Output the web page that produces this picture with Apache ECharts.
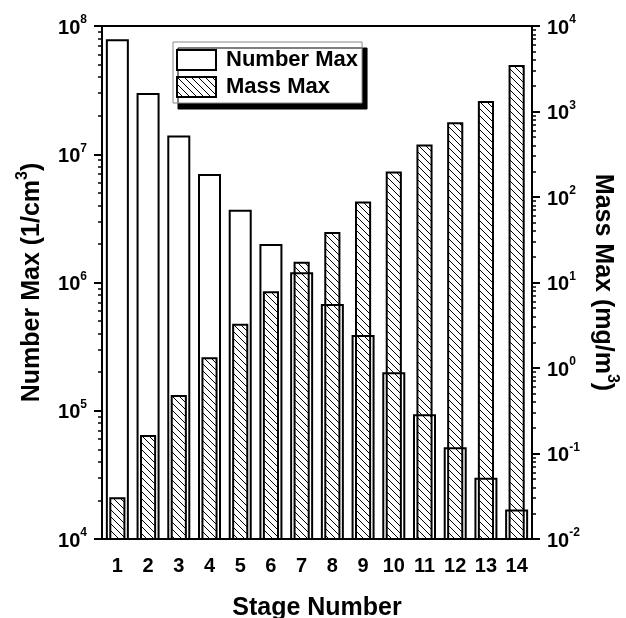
<!DOCTYPE html>
<html>
<head>
<meta charset="utf-8">
<script src="https://cdn.jsdelivr.net/npm/echarts@6/dist/echarts.min.js"></script>
<style>
html,body{margin:0;padding:0;background:#fff;}
#c{width:626px;height:618px;}
</style>
</head>
<body>
<div id="c"></div>
<script>
var categories = ['1','2','3','4','5','6','7','8','9','10','11','12','13','14'];
var numberMax = [7.9e7, 3.0e7, 1.4e7, 7.0e6, 3.7e6, 2.0e6, 1.2e6, 6.8e5, 3.9e5, 2.0e5, 9.4e4, 5.2e4, 3.0e4, 1.7e4];
var massMax = [0.03, 0.16, 0.47, 1.3, 3.2, 7.7, 17, 38, 86, 194, 400, 730, 1290, 3400];
var leftExponents = [4, 5, 6, 7, 8];
var rightExponents = [-2, -1, 0, 1, 2, 3, 4];
var minorMultipliers = [2, 3, 4, 5, 6, 7, 8, 9];

var LEFT_MIN = Math.pow(10, leftExponents[0]);
var LEFT_MAX = Math.pow(10, leftExponents[leftExponents.length - 1]);
var RIGHT_MIN = Math.pow(10, rightExponents[0]);
var RIGHT_MAX = Math.pow(10, rightExponents[rightExponents.length - 1]);

function minorValues(exps) {
  var out = [];
  for (var i = 0; i < exps.length - 1; i++) {
    for (var j = 0; j < minorMultipliers.length; j++) {
      out.push(parseFloat((minorMultipliers[j] * Math.pow(10, exps[i])).toPrecision(6)));
    }
  }
  return out;
}
function majorValues(exps) {
  return exps.map(function (e) { return parseFloat(Math.pow(10, e).toPrecision(6)); });
}

var FONT = '"Liberation Sans", Arial, sans-serif';

// hatch pattern
var tile = document.createElement('canvas');
tile.width = 7; tile.height = 7;
var tc = tile.getContext('2d');
tc.fillStyle = '#fff';
tc.fillRect(0, 0, 7, 7);
tc.strokeStyle = '#000';
tc.lineWidth = 1;
[-7, 0, 7].forEach(function (o) {
  tc.beginPath();
  tc.moveTo(o, 0);
  tc.lineTo(o + 7, 7);
  tc.stroke();
});
var hatch = {image: tile, repeat: 'repeat'};

function powLabel(v) {
  var e = Math.round(Math.log(v) / Math.LN10);
  return '{b|10}{s|' + e + '}';
}
var tickRich = {
  b: {fontFamily: FONT, fontWeight: 'bold', fontSize: 20, color: '#000', padding: [4, 0, 0, 0]},
  s: {fontFamily: FONT, fontWeight: 'bold', fontSize: 12, color: '#000', verticalAlign: 'top'}
};
var nameRich = {
  a: {fontFamily: FONT, fontWeight: 'bold', fontSize: 25, color: '#000', padding: [5, 0, 0, 0]},
  s: {fontFamily: FONT, fontWeight: 'bold', fontSize: 16, color: '#000', verticalAlign: 'top'}
};

var axisLineStyle = {color: '#000', width: 2};

var massData = massMax.map(function (v, i) { return [i, v]; });

var chart = echarts.init(document.getElementById('c'), null, {renderer: 'canvas'});
chart.setOption({
  backgroundColor: '#fff',
  animation: false,
  grid: {left: 102, right: 94, top: 26, bottom: 79, containLabel: false, outerBoundsMode: 'none'},
  legend: {
    orient: 'vertical',
    left: 173, top: 42,
    padding: [7, 4, 5, 3],
    itemGap: 5,
    itemWidth: 39, itemHeight: 20,
    backgroundColor: '#fff',
    borderColor: '#888', borderWidth: 1,
    shadowColor: '#000', shadowBlur: 0.01, shadowOffsetX: 5, shadowOffsetY: 6,
    textStyle: {fontFamily: FONT, fontWeight: 'bold', fontSize: 22, color: '#000', lineHeight: 20, padding: [0, 0, 0, 5]},
    data: [
      {name: 'Number Max', icon: 'rect', itemStyle: {color: '#fff', borderColor: '#000', borderWidth: 2}},
      {name: 'Mass Max', icon: 'rect', itemStyle: {color: hatch, borderColor: '#000', borderWidth: 2}}
    ]
  },
  xAxis: [
    {
      type: 'category', position: 'bottom', data: categories, boundaryGap: true,
      axisLine: {lineStyle: axisLineStyle},
      axisTick: {alignWithLabel: true, length: 8, lineStyle: {color: '#000', width: 2}},
      axisLabel: {fontFamily: FONT, fontWeight: 'bold', fontSize: 20, color: '#000', margin: 17, interval: 0},
      splitLine: {show: false},
      name: 'Stage Number', nameLocation: 'middle', nameGap: 57,
      nameTextStyle: {fontFamily: FONT, fontWeight: 'bold', fontSize: 25, color: '#000'}
    },
    {
      type: 'category', position: 'top', data: categories, boundaryGap: true,
      axisLine: {lineStyle: axisLineStyle},
      axisTick: {alignWithLabel: true, inside: true, length: 7, lineStyle: {color: '#000', width: 2}},
      axisLabel: {show: false},
      splitLine: {show: false}
    }
  ],
  yAxis: [
    {
      type: 'log', logBase: 10, position: 'left', min: LEFT_MIN, max: LEFT_MAX,
      axisLine: {show: true, lineStyle: axisLineStyle},
      axisTick: {show: true, length: 8, lineStyle: {color: '#000', width: 2}, customValues: majorValues(leftExponents)},
      axisLabel: {formatter: powLabel, rich: tickRich, margin: 15, customValues: majorValues(leftExponents)},
      splitLine: {show: false},
      name: '{a|Number Max (1/cm}{s|3}{a|)}', nameLocation: 'middle', nameGap: 57,
      nameTextStyle: {rich: nameRich}
    },
    {
      type: 'log', logBase: 10, position: 'right', min: RIGHT_MIN, max: RIGHT_MAX,
      axisLine: {show: true, lineStyle: axisLineStyle},
      axisTick: {show: true, length: 8, lineStyle: {color: '#000', width: 2}, customValues: majorValues(rightExponents)},
      axisLabel: {formatter: powLabel, rich: tickRich, margin: 15, customValues: majorValues(rightExponents)},
      splitLine: {show: false},
      name: '{a|Mass Max (mg/m}{s|3}{a|)}', nameLocation: 'middle', nameGap: 56, nameRotate: -90,
      nameTextStyle: {rich: nameRich}
    },
    {
      type: 'log', logBase: 10, position: 'left', min: LEFT_MIN, max: LEFT_MAX,
      axisLine: {show: false},
      axisTick: {show: true, length: 4, lineStyle: {color: '#000', width: 1.5}, customValues: minorValues(leftExponents)},
      axisLabel: {show: false},
      splitLine: {show: false}
    },
    {
      type: 'log', logBase: 10, position: 'right', min: RIGHT_MIN, max: RIGHT_MAX,
      axisLine: {show: false},
      axisTick: {show: true, length: 4, lineStyle: {color: '#000', width: 1.5}, customValues: minorValues(rightExponents)},
      axisLabel: {show: false},
      splitLine: {show: false}
    }
  ],
  series: [
    {
      name: 'Mass Max', type: 'custom', xAxisIndex: 1, yAxisIndex: 1, z: 2,
      data: massData,
      encode: {x: 0, y: 1},
      itemStyle: {color: hatch, borderColor: '#000', borderWidth: 2},
      renderItem: function (params, api) {
        var idx = api.value(0);
        var top = api.coord([idx, api.value(1)]);
        var bottom = api.coord([idx, RIGHT_MIN]);
        var w = api.size([1, 0])[0] * 0.46;
        return {
          type: 'rect',
          shape: {x: top[0] - w / 2, y: top[1], width: w, height: bottom[1] - top[1]},
          style: {fill: hatch, stroke: '#000', lineWidth: 2}
        };
      }
    },
    {
      name: 'Number Max', type: 'bar', xAxisIndex: 0, yAxisIndex: 0, barWidth: 23, z: 3,
      data: numberMax,
      itemStyle: {color: 'rgba(255,255,255,0)', borderColor: '#000', borderWidth: 2}
    }
  ]
});
</script>
</body>
</html>
